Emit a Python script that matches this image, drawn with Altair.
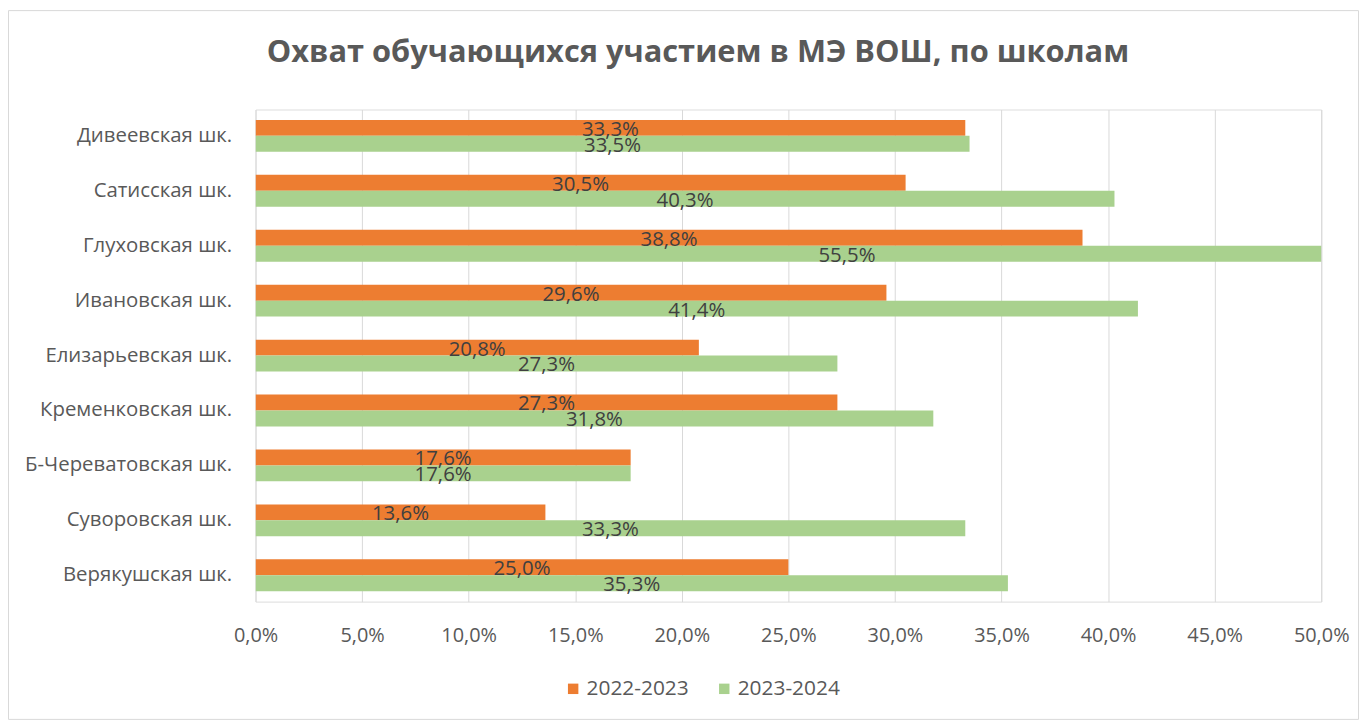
import altair as alt
import pandas as pd

schools = ["Дивеевская шк.", "Сатисская шк.", "Глуховская шк.", "Ивановская шк.",
           "Елизарьевская шк.", "Кременковская шк.", "Б-Череватовская шк.",
           "Суворовская шк.", "Верякушская шк."]
series = ["2022-2023", "2023-2024"]
v2022 = [33.3, 30.5, 38.8, 29.6, 20.8, 27.3, 17.6, 13.6, 25.0]
v2023 = [33.5, 40.3, 55.5, 41.4, 27.3, 31.8, 17.6, 33.3, 35.3]
ticks = [0, 5, 10, 15, 20, 25, 30, 35, 40, 45, 50]
colors = ["#ED7D31", "#A9D18E"]

rows = []
for i, s in enumerate(schools):
    rows.append({"school": s, "series": series[0], "value": v2022[i]})
    rows.append({"school": s, "series": series[1], "value": v2023[i]})
df = pd.DataFrame(rows)

FONT = "Open Sans"
W, H = 1072, 495

y_enc = alt.Y("school:N", sort=schools, title=None,
              scale=alt.Scale(paddingInner=0.42, paddingOuter=0.19),
              axis=alt.Axis(labelFontSize=20.5, labelColor="#595959", labelPadding=24,
                            labelLimit=400, ticks=False, domain=False, labelFont=FONT))
yoff = alt.YOffset("series:N", sort=series, scale=alt.Scale(paddingInner=0, paddingOuter=0))
color_enc = alt.Color("series:N", sort=series,
                      scale=alt.Scale(domain=series, range=colors),
                      legend=alt.Legend(title=None, orient="none", legendX=309, legendY=572,
                                        direction="horizontal", symbolType="square",
                                        symbolSize=110, symbolStrokeWidth=0,
                                        labelFontSize=21, labelColor="#595959",
                                        labelFont=FONT, columnPadding=25, labelOffset=3))

xscale = alt.Scale(domain=[0, 50], nice=False)

bars = alt.Chart(df).mark_bar(clip=True).encode(
    x=alt.X("value:Q", scale=xscale, title=None,
            axis=alt.Axis(values=ticks,
                          labelExpr="replace(format(datum.value, '.1f'), '.', ',') + '%'",
                          labelFontSize=20, labelColor="#595959", labelFont=FONT,
                          labelPadding=24, labelFlush=False, ticks=False, domain=False,
                          grid=True, gridColor="#D9D9D9", gridWidth=1)),
    y=y_enc, yOffset=yoff, color=color_enc,
)

labels = alt.Chart(df).transform_calculate(
    mid="datum.value / 2",
    txt="replace(format(datum.value, '.1f'), '.', ',') + '%'"
).mark_text(fontSize=20.5, color="#404040", baseline="middle", align="center", dy=2, font=FONT).encode(
    x=alt.X("mid:Q", scale=xscale),
    y=alt.Y("school:N", sort=schools),
    yOffset=alt.YOffset("series:N", sort=series),
    text="txt:N",
)

border = alt.Chart(pd.DataFrame({"a": [0]})).mark_rect(
    fill=None, stroke="#D9D9D9", strokeWidth=1).encode(
    x=alt.value(-248.5), x2=alt.value(W + 37.5), y=alt.value(-99.5), y2=alt.value(H + 118.5))

chart = alt.layer(border, bars, labels).properties(
    width=W, height=H,
    title=alt.TitleParams("Охват обучающихся участием в МЭ ВОШ, по школам",
                          fontSize=31, font=FONT, fontWeight="bold", color="#595959",
                          anchor="middle", dx=-91, offset=-59),
    autosize=alt.AutoSizeParams(type="none"),
    padding={"left": 249, "top": 100, "right": 38, "bottom": 119},
).configure_view(stroke=None).configure(background="white")

chart.save("out.html", embed_options={"renderer": "svg", "actions": False})
